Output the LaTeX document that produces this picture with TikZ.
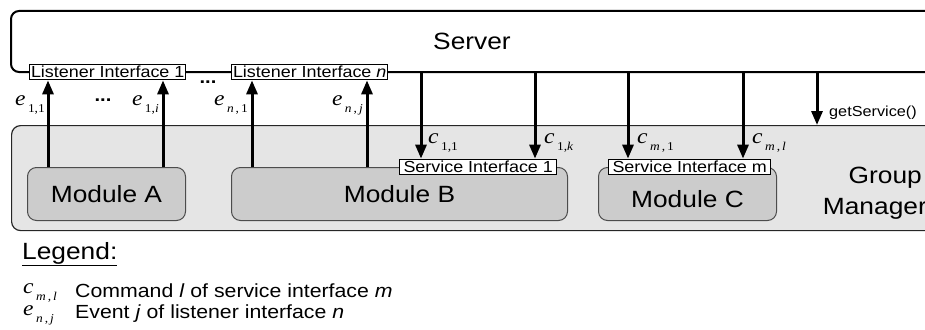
\documentclass[tikz,border=0pt]{standalone}
\usepackage{fontspec}
\setmainfont[FakeStretch=1.12]{Liberation Sans}
\newfontfamily\tms[FakeStretch=1.12]{Liberation Serif}
\usetikzlibrary{arrows.meta}

% italic symbol with a lowered (Times) subscript
\newcommand\symsub[2]{{\fontsize{21}{21}\tms\itshape #1}\hspace{2.5pt}\raisebox{-7.5pt}{\fontsize{12}{12}\tms #2}}

\tikzset{
  frame/.style={draw=black, line width=2pt, rounded corners=8pt},
  groupbox/.style={draw=black!85, fill=black!10, line width=1.2pt, rounded corners=9pt},
  module/.style={draw=black!70, fill=black!20, line width=1pt, rounded corners=9pt,
    inner sep=0pt, font=\fontsize{23.5}{23.5}\selectfont},
  iface/.style={draw=black, fill=white, line width=1pt, inner xsep=1.5pt, inner ysep=2pt,
    font=\fontsize{16}{16}\selectfont},
  sig/.style={line width=3pt, -{Triangle[length=14pt,width=11pt]}},
  sym/.style={inner sep=0pt},
  dots/.style={font=\fontsize{18}{18}\selectfont\bfseries, anchor=base, inner sep=0pt},
  bigtxt/.style={font=\fontsize{23.5}{28}\selectfont},
  smalltxt/.style={font=\fontsize{14.5}{14.5}\selectfont},
  legendtxt/.style={font=\fontsize{19}{19}\selectfont},
}

\begin{document}
\begin{tikzpicture}[x=1pt,y=-1pt]
\useasboundingbox (0,0) rectangle (925,329);
\clip (0,0) rectangle (925,329);

% Server
\node[frame, minimum width=950pt, minimum height=61pt, anchor=north west] (server) at (10,10) {};
\node[bigtxt] (servertitle) at (472,41) {Server};

% Group Manager with its modules
\node[groupbox, minimum width=950pt, minimum height=105pt, anchor=north west] (gm) at (11,125) {};
\node[font=\fontsize{23.5}{31}\selectfont, align=right, inner sep=0pt, anchor=east]
      (gmtitle) at (927,193) {Group\hspace*{5pt}\\Manager};

\node[module, minimum width=158pt, minimum height=53pt, anchor=north west] (modA) at (27,167) {Module A};
\node[module, minimum width=336pt, minimum height=53pt, anchor=north west] (modB) at (231,167) {Module B};
\node[module, minimum width=178pt, minimum height=53pt, anchor=north west,
      text height=27pt, text depth=0pt] (modC) at (598,167) {Module C};

% Listener interfaces on the server
\node[iface, anchor=west] (li1) at (29,72) {Listener Interface 1};
\node[iface, anchor=west] (lin) at (231,72) {Listener Interface \textit{n}};
\node[dots] (lidots) at (208,83) {...};

% Service interfaces on the modules
\node[iface, inner xsep=4pt, anchor=west] (si1) at (399,167) {Service Interface 1};
\node[iface, inner xsep=4pt, anchor=west] (sim) at (608,167) {Service Interface m};

% Events: modules -> listener interfaces
\draw[sig] (48,0 |- modA.north) -- (48,0 |- li1.south);
\draw[sig] (163,0 |- modA.north) -- (163,0 |- li1.south);
\draw[sig] (252,0 |- modB.north) -- (252,0 |- lin.south);
\draw[sig] (367,0 |- modB.north) -- (367,0 |- lin.south);

\node[sym, anchor=base east] (e11) at (45,105) {\symsub{e}{1,1}};
\node[dots] (edots) at (103,101) {...};
\node[sym, anchor=base east] (e1i) at (159,105) {\symsub{e}{1,\textit{i}}};
\node[sym, anchor=base east] (en1) at (248,105) {\symsub{e}{\textit{n}\,,\,1}};
\node[sym, anchor=base east] (enj) at (363,105) {\symsub{e}{\textit{n}\,,\,\textit{j}}};

% Commands: server -> service interfaces
\draw[sig] (421,0 |- server.south) -- (421,0 |- si1.north);
\draw[sig] (535,0 |- server.south) -- (535,0 |- si1.north);
\draw[sig] (628,0 |- server.south) -- (628,0 |- sim.north);
\draw[sig] (743,0 |- server.south) -- (743,0 |- sim.north);

\node[sym, anchor=base west] (c11) at (428,143) {\symsub{c}{1,1}};
\node[sym, anchor=base west] (c1k) at (544,143) {\symsub{c}{1,\textit{k}}};
\node[sym, anchor=base west] (cm1) at (637,143) {\symsub{c}{\textit{m}\,,\,1}};
\node[sym, anchor=base west] (cml) at (752,143) {\symsub{c}{\textit{m}\,,\,\textit{l}}};

% Server -> Group Manager
\draw[sig] (817,0 |- server.south) -- (817,0 |- gm.north);
\node[smalltxt, anchor=base west, inner sep=0pt] (getsvc) at (829,116) {getService()};

% Legend
\node[bigtxt, anchor=base west, inner sep=0pt] (legend) at (22,259) {\underline{Legend:}};
\node[sym, anchor=base west] (lgc) at (23,293) {\symsub{c}{\textit{m}\,,\,\textit{l}}};
\node[legendtxt, anchor=base west, inner sep=0pt] (lgctxt) at (75,297) {Command \textit{l} of service interface \textit{m}};
\node[sym, anchor=base west] (lge) at (23,315) {\symsub{e}{\textit{n}\,,\,\textit{j}}};
\node[legendtxt, anchor=base west, inner sep=0pt] (lgetxt) at (75,318) {Event \textit{j} of listener interface \textit{n}};
\end{tikzpicture}
\end{document}
